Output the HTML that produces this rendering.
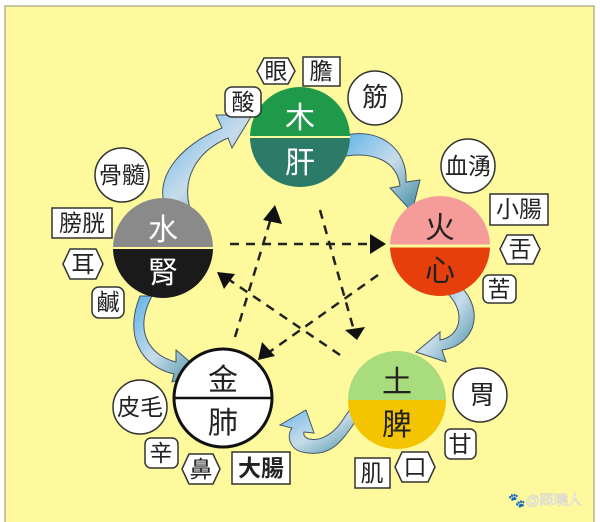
<!DOCTYPE html>
<html><head><meta charset="utf-8"><style>
html,body{margin:0;padding:0;background:#fff;}
svg{display:block;}
text{font-family:"Liberation Sans","Noto Sans CJK TC",sans-serif;}
</style></head><body>
<svg width="600" height="522" viewBox="0 0 600 522" xmlns="http://www.w3.org/2000/svg">
<defs>
<linearGradient id="g" x1="0" y1="0" x2="1" y2="1">
<stop offset="0" stop-color="#5fb3e8"/><stop offset="0.5" stop-color="#c8dcea"/><stop offset="1" stop-color="#3d8aa0"/>
</linearGradient>
</defs>
<rect x="0" y="0" width="600" height="522" fill="#fff"/>
<rect x="5" y="6" width="589" height="520" fill="#fdf99c" stroke="#b8b48a" stroke-width="1.5"/>

<!-- dashed star -->
<g stroke="#222" stroke-width="2.5" stroke-dasharray="9,7" fill="none">
<line x1="230" y1="244" x2="372" y2="244"/>
<line x1="235" y1="337" x2="271" y2="218"/>
<line x1="320" y1="210" x2="353" y2="327"/>
<line x1="340" y1="355" x2="228" y2="279"/>
<line x1="378" y1="275" x2="268" y2="353"/>
</g>
<g fill="#111">
<polygon points="386,244 370,234 370,254"/>
<polygon points="275,205 263,220 282,224"/>
<polygon points="357,340 345,330 365,327"/>
<polygon points="217,272 235,274 224,289"/>
<polygon points="258,360 262,342 275,356"/>
</g>

<!-- curved blue arrows -->
<g fill="url(#g)" stroke="#456" stroke-width="1">
<path d="M168,212 C150,180 180,145 222,128 L216,115 L252,115 L232,148 L228,138 C195,152 182,180 190,208 Z"/>
<path d="M342,136 C378,126 408,148 406,182 L420,180 L412,212 L390,188 L400,186 C397,160 372,152 346,156 Z"/>
<path d="M455,282 C486,305 478,345 442,350 L446,362 L416,352 L440,332 L440,340 C462,336 466,310 446,292 Z"/>
<path d="M366,408 C345,432 338,460 302,452 C290,449 286,436 292,428 L280,425 L306,410 L314,433 L304,432 C302,440 316,442 326,436 C342,428 346,410 356,404 Z"/>
<path d="M152,296 C134,330 148,355 176,362 L176,350 L202,372 L172,382 L174,374 C140,366 124,335 140,296 Z"/>
</g>

<!-- Wood -->
<path d="M250,137 A50,50 0 0 1 350,137 Z" fill="#1f9a4a"/>
<path d="M250,137 A50,50 0 0 0 350,137 Z" fill="#2c7a68"/>
<line x1="250" y1="137" x2="350" y2="137" stroke="#fdf99c" stroke-width="2"/>
<text x="300" y="128" font-size="30" fill="#fff" text-anchor="middle">木</text>
<text x="300" y="173" font-size="30" fill="#fff" text-anchor="middle">肝</text>

<!-- Fire -->
<path d="M390,246 A50,50 0 0 1 490,246 Z" fill="#f59c9a"/>
<path d="M390,246 A50,50 0 0 0 490,246 Z" fill="#e63f0c"/>
<line x1="390" y1="246" x2="490" y2="246" stroke="#fdf99c" stroke-width="3"/>
<text x="440" y="238" font-size="30" fill="#222" text-anchor="middle">火</text>
<text x="440" y="281" font-size="30" fill="#222" text-anchor="middle">心</text>

<!-- Earth -->
<path d="M348,400 A49,49 0 0 1 446,400 Z" fill="#a8dc7c"/>
<path d="M348,400 A49,49 0 0 0 446,400 Z" fill="#f5c400"/>
<text x="397" y="392" font-size="30" fill="#222" text-anchor="middle">土</text>
<text x="397" y="435" font-size="30" fill="#222" text-anchor="middle">脾</text>

<!-- Metal -->
<circle cx="223" cy="398" r="49" fill="#fff" stroke="#111" stroke-width="3"/>
<line x1="174" y1="398" x2="272" y2="398" stroke="#111" stroke-width="2.5"/>
<text x="223" y="390" font-size="30" fill="#222" text-anchor="middle">金</text>
<text x="223" y="433" font-size="30" fill="#222" text-anchor="middle">肺</text>

<!-- Water -->
<path d="M113,248 A50,50 0 0 1 213,248 Z" fill="#8a8a8a"/>
<path d="M113,248 A50,50 0 0 0 213,248 Z" fill="#1a1a1a"/>
<line x1="113" y1="248" x2="213" y2="248" stroke="#fdf99c" stroke-width="2"/>
<text x="163" y="240" font-size="30" fill="#fff" text-anchor="middle">水</text>
<text x="163" y="283" font-size="30" fill="#fff" text-anchor="middle">腎</text>

<!-- labels -->
<g fill="#fff" stroke="#333" stroke-width="1.5">
<rect x="225" y="87" width="36" height="30" rx="7"/>
<polygon points="257,71 264,58 288,58 295,71 288,84 264,84"/>
<rect x="303" y="57" width="37" height="29"/>
<circle cx="375" cy="98" r="27"/>
<circle cx="468" cy="166" r="27"/>
<rect x="490" y="194" width="58" height="31"/>
<polygon points="500,249 507,235 533,235 540,249 533,264 507,264"/>
<rect x="483" y="275" width="33" height="28" rx="6"/>
<circle cx="480" cy="395" r="27"/>
<rect x="445" y="429" width="31" height="30" rx="6"/>
<polygon points="395,467 402,452 428,452 435,467 428,482 402,482"/>
<rect x="355" y="458" width="35" height="30"/>
<rect x="232" y="452" width="58" height="32"/>
<polygon points="182,469 189,454 213,454 220,469 213,484 189,484"/>
<rect x="145" y="438" width="33" height="30" rx="6"/>
<circle cx="140" cy="407" r="27"/>
<circle cx="122" cy="175" r="27"/>
<rect x="52" y="208" width="60" height="30"/>
<polygon points="63,264 70,249 96,249 103,264 96,279 70,279"/>
<rect x="92" y="287" width="32" height="31" rx="7"/>
</g>
<g fill="#222" font-size="23" text-anchor="middle">
<text x="243" y="110">酸</text>
<text x="276" y="79">眼</text>
<text x="321" y="79">膽</text>
<text x="375" y="106" font-size="26">筋</text>
<text x="468" y="174">血湧</text>
<text x="519" y="217">小腸</text>
<text x="520" y="257">舌</text>
<text x="499" y="297">苦</text>
<text x="482" y="404" font-size="26">胃</text>
<text x="460" y="452">甘</text>
<text x="415" y="475">口</text>
<text x="372" y="481">肌</text>
<text x="261" y="476" font-weight="bold">大腸</text>
<text x="201" y="477">鼻</text>
<text x="161" y="461">辛</text>
<text x="140" y="415">皮毛</text>
<text x="122" y="183">骨髓</text>
<text x="82" y="231">膀胱</text>
<text x="83" y="272">耳</text>
<text x="108" y="310">鹹</text>
</g>
<text x="545" y="505" font-size="14" fill="#fff" stroke="#ccc" stroke-width="0.5" text-anchor="middle">🐾@踩曉人</text>
</svg>
</body></html>
